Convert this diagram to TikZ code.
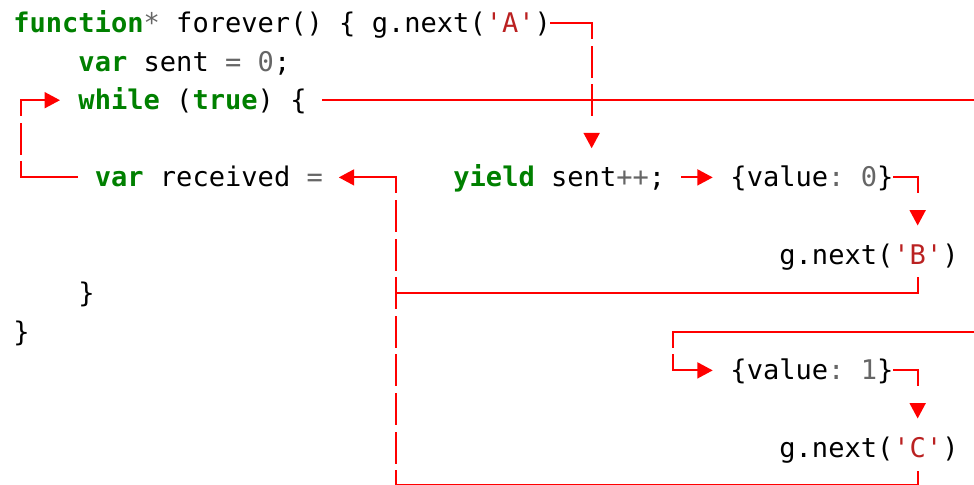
\documentclass[tikz,border=0pt]{standalone}
\usepackage{fontspec}
\setmonofont{DejaVu Sans Mono}
\usetikzlibrary{arrows.meta}
\definecolor{kwgreen}{HTML}{008000}
\definecolor{opgray}{HTML}{666666}
\definecolor{strred}{HTML}{BA2121}
\newcommand{\kw}[1]{\textcolor{kwgreen}{\bfseries#1}}
\newcommand{\op}[1]{\textcolor{opgray}{#1}}
\newcommand{\jsq}[1]{\textcolor{strred}{'#1'}}
\tikzset{
  code/.style={anchor=west, inner sep=0pt, text height=15.75pt, text depth=1.5pt,
    font=\ttfamily\fontsize{20.3pt}{24pt}\selectfont},
  wire/.style={draw=red, line width=1.5pt, line cap=rect},
  gaps/.style={dash pattern=on 22.45pt off 6.5pt, dash phase=11.225pt},
  half/.style={dash pattern=on 11.225pt off 40pt},
}

\begin{document}
\begin{tikzpicture}[x=12.225pt, y=-28.95pt, >={Triangle[length=11.6pt,width=12pt]}]
\useasboundingbox (-0.7975,-0.5959) rectangle (58.957,11.969);
% one unit = one character cell
\node[code] (fn) at (0,0) {\kw{function}\op{*} forever() \{ g.next(\jsq{A})};
\node[code] (sent) at (4,1) {\kw{var} sent \op{=} \op{0};};
\node[code] (loop) at (4,2) {\kw{while} (\kw{true}) \{};
\node[code] (recv) at (5,4) {\kw{var} received \op{=}};
\node[code] (yld) at (27,4) {\kw{yield} sent\op{++};};
\node[code] (val0) at (44,4) {\{value\op{:} \op{0}\}};
\node[code] (nextB) at (47,6) {g.next(\jsq{B})};
\node[code] (endloop) at (4,7) {\}};
\node[code] (endfn) at (0,8) {\}};
\node[code] (val1) at (44,9) {\{value\op{:} \op{1}\}};
\node[code] (nextC) at (47,11) {g.next(\jsq{C})};
% corners of the wires
\coordinate (cA) at (35.5,0);
\coordinate (cL4) at (0.5,4);
\coordinate (cL2) at (0.5,2);
\coordinate (cJ4) at (23.5,4);
\coordinate (cJ7) at (23.5,7);
\coordinate (cJ12) at (23.5,11.96);
\coordinate (cB4) at (55.5,4);
\coordinate (cB7) at (55.5,7);
\coordinate (cC9) at (55.5,9);
\coordinate (cC12) at (55.5,11.96);
\coordinate (cR8) at (40.5,8);
\coordinate (cR9) at (40.5,9);
\coordinate (edge2) at (59.5,2);
\coordinate (edge8) at (59.5,8);
% g.next('A') runs to the yield
\draw[wire] (fn.east) -- (cA);
\draw[wire, ->, shorten >=13pt,
  dash pattern=on 11.225pt off 6.5pt on 22.45pt off 6.5pt on 22.45pt off 60pt]
  (cA) -- (cA |- yld.north);
% the loop
\draw[wire] ([xshift=12.225pt]loop.east) -- (edge2);
\draw[wire] ([xshift=-13pt]recv.west) -- (cL4);
\draw[wire, gaps] (cL4) -- (cL2);
\draw[wire, ->, shorten >=13.65pt] (cL2) -- (loop.west);
% yielded values
\draw[wire, ->, shorten <=12.225pt, shorten >=13.1pt] (yld.east) -- (val0.west);
\draw[wire] (val0.east) -- (cB4);
\draw[wire, half, ->, shorten >=13pt] (cB4) -- (cB4 |- nextB.north);
\draw[wire] (edge8) -- (cR8);
\draw[wire, gaps] (cR8) -- (cR9);
\draw[wire, ->, shorten >=13.1pt] (cR9) -- (val1.west);
\draw[wire] (val1.east) -- (cC9);
\draw[wire, half, ->, shorten >=13pt] (cC9) -- (cC9 |- nextC.north);
% sent values go back to received
\draw[wire, shorten <=9.1pt] (nextB.south -| cB7) -- (cB7) -- (cJ7);
\draw[wire, shorten <=9.1pt] (nextC.south -| cC12) -- (cC12) -- (cJ12);
\draw[wire, gaps] (cJ4) -- (cJ12);
\draw[wire, ->, shorten >=11.7pt] (cJ4) -- (recv.east);
\end{tikzpicture}
\end{document}
